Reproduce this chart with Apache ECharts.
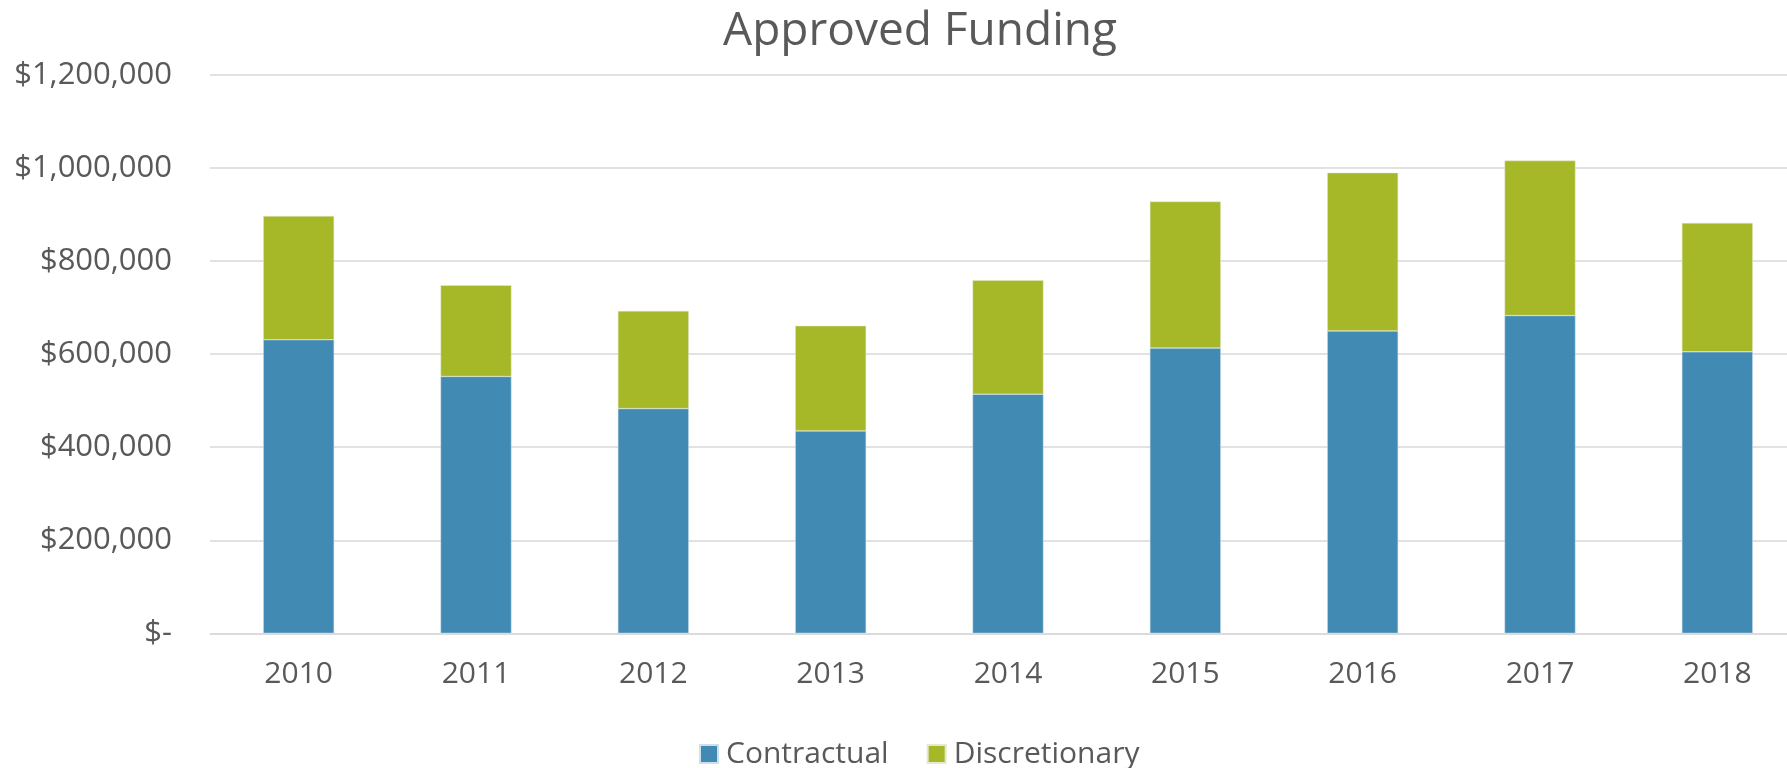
<!DOCTYPE html>
<html>
<head>
<meta charset="utf-8">
<script src="https://cdn.jsdelivr.net/npm/echarts@6/dist/echarts.min.js"></script>
<style>
html,body{margin:0;padding:0;background:#fff;}
#chart{width:1787px;height:768px;}
</style>
</head>
<body>
<div id="chart"></div>
<script>
const years = ['2010','2011','2012','2013','2014','2015','2016','2017','2018'];
const contractual = [631000, 552000, 483000, 435000, 514000, 613000, 650000, 683000, 605000];
const discretionary = [266000, 196000, 210000, 226000, 245000, 315000, 340000, 333000, 277000];
const seriesNames = ['Contractual', 'Discretionary'];
const yTicks = [0, 200000, 400000, 600000, 800000, 1000000, 1200000];

const FONT = 'Open Sans';
const TXT = '#595959';

function fmt(v){
  if (v === 0) return '$-';
  return '$' + v.toString().replace(/\B(?=(\d{3})+(?!\d))/g, ',');
}

const chart = echarts.init(document.getElementById('chart'), null, {renderer:'canvas'});
chart.setOption({
  animation:false,
  backgroundColor:'#ffffff',
  title:{
    text:'Approved Funding',
    left:915, textAlign:'center', top:4,
    textStyle:{fontFamily:FONT, fontSize:46, fontWeight:'normal', color:TXT}
  },
  legend:{
    data:seriesNames,
    left:694, top:734,
    icon:'rect', itemWidth:18, itemHeight:18, itemGap:38,
    textStyle:{fontFamily:FONT, fontSize:30, color:TXT, padding:[0,0,0,3]}
  },
  grid:{left:210, width:1596, top:75, height:558.3, containLabel:false, outerBoundsMode:'none'},
  xAxis:{
    type:'category', data:years,
    axisLine:{show:true, lineStyle:{color:'#D9D9D9', width:1.5}},
    axisTick:{show:false},
    axisLabel:{fontFamily:FONT, fontSize:30, color:TXT, margin:26}
  },
  yAxis:{
    type:'value', min:0, max:yTicks[yTicks.length-1], interval:yTicks[1]-yTicks[0],
    axisLine:{show:false}, axisTick:{show:false},
    splitLine:{lineStyle:{color:'#D9D9D9', width:1.5}},
    axisLabel:{fontFamily:FONT, fontSize:31, color:TXT, margin:38, formatter:fmt}
  },
  series:[
    {name:seriesNames[0], type:'bar', stack:'total', data:contractual, barWidth:'40%',
     itemStyle:{color:'#418AB3', borderColor:'#cfe0ea', borderWidth:0.5}},
    {name:seriesNames[1], type:'bar', stack:'total', data:discretionary, barWidth:'40%',
     itemStyle:{color:'#A6B727', borderColor:'#e3ead0', borderWidth:0.5}}
  ]
});
</script>
</body>
</html>
